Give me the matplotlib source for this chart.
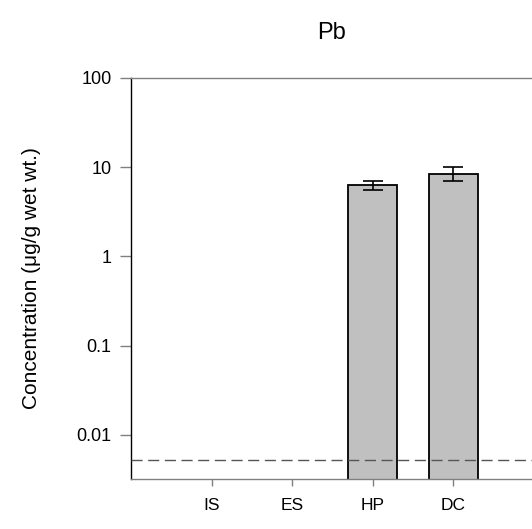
import matplotlib
matplotlib.use("Agg")
import matplotlib.pyplot as plt
import numpy as np

plt.rcParams['font.family'] = ['Liberation Sans', 'DejaVu Sans']

# data
sites = ["IS", "ES", "HP", "DC"]
conc = [np.nan, np.nan, 6.3, 8.4]
err_low = [0, 0, 0.73, 1.45]
err_high = [0, 0, 0.78, 1.6]
detection_limit = 0.0052
y_ticks = [0.01, 0.1, 1, 10, 100]
y_tick_labels = ["0.01", "0.1", "1", "10", "100"]

fig = plt.figure(figsize=(5.32, 5.29), dpi=100)
ax = fig.add_axes([0.2462, 0.0945, 0.7538, 0.7581])

x = np.arange(1, len(sites) + 1)
ax.bar(x, conc, width=0.61, color="#c0c0c0", edgecolor="black", linewidth=1.3, zorder=2)
ax.errorbar(x, conc, yerr=[err_low, err_high], fmt="none", ecolor="black",
            elinewidth=1.2, capsize=7, capthick=1.2, zorder=3)
ax.axhline(detection_limit, color="#555555", linestyle=(0, (8, 4)), linewidth=1.0, zorder=4)

ax.set_yscale("log")
ax.set_ylim(0.0032, 100)
ax.set_xlim(0, 4.975)
ax.set_yticks(y_ticks)
ax.set_yticklabels(y_tick_labels)
ax.minorticks_off()
ax.set_xticks(x)
ax.set_xticklabels(sites)

ax.spines["right"].set_visible(False)
ax.spines["left"].set_color("black")
ax.spines["top"].set_color("#808080")
ax.spines["bottom"].set_color("#808080")
for s in ax.spines.values():
    s.set_linewidth(1.0)

ax.tick_params(axis="y", direction="out", length=8, width=1, color="#808080",
               labelsize=13, pad=6)
ax.tick_params(axis="x", direction="out", length=5, width=1, color="#808080",
               labelsize=12.5, pad=9)

ax.set_ylabel("Concentration (\u03bcg/g wet wt.)", fontsize=15)
ax.yaxis.set_label_coords(-0.225, 0.5)
ax.set_title("Pb", fontsize=17, pad=28)

plt.savefig("out.png", dpi=100)
